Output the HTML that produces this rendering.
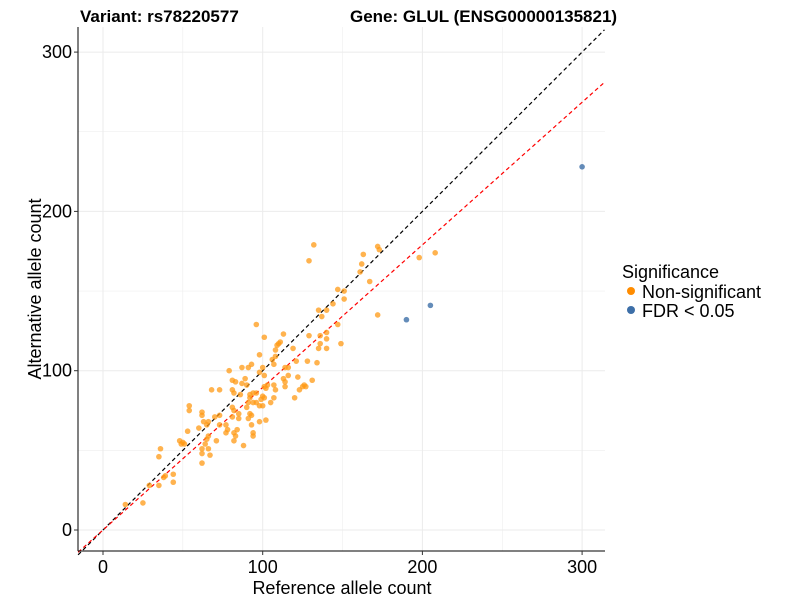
<!DOCTYPE html>
<html><head><meta charset="utf-8"><style>
body{margin:0;background:#fff;font-family:"Liberation Sans",Arial,sans-serif}
svg text{font-family:"Liberation Sans",Arial,sans-serif}
</style></head><body>
<svg id="chart" width="800" height="600">
<g id="grid"></g>
<g id="lines"></g>
<g id="pts"></g>
<g id="axes"></g>
<text x="80" y="22" font-size="17" font-weight="bold">Variant: rs78220577</text>
<text x="350" y="22" font-size="17" font-weight="bold">Gene: GLUL (ENSG00000135821)</text>
<text x="342" y="594" font-size="18" text-anchor="middle">Reference allele count</text>
<text transform="translate(41,289) rotate(-90)" font-size="18" text-anchor="middle">Alternative allele count</text>
<g>
<text x="622" y="278" font-size="18">Significance</text>
<g><circle cx="631" cy="291" r="4" fill="#FF8C00"/><text x="642" y="298" font-size="18">Non-significant</text></g>
<g><circle cx="631" cy="310" r="4" fill="#3D6FA8"/><text x="642" y="317" font-size="18">FDR &lt; 0.05</text></g>
</g>
</svg>
<script>
const nsX=[132,129,147,151,144,151,135,140,137,147,149,96,101,113,111,110,109,119,108,98,129,136,140,140,136,135,140,128,134,121,108,106,107,116,114,79,87,91,93,100,98,101,113,116,114,114,122,131,123,126,125,127,120,81,83,89,87,90,102,101,107,108,103,68,73,81,82,86,92,94,96,92,100,101,99,98,100,107,105,91,94,96,90,81,82,85,54,54,62,62,70,73,81,92,93,91,85,84,98,102,63,66,65,73,77,93,60,53,78,77,82,83,94,94,66,65,64,71,82,88,48,50,51,49,36,35,62,66,62,67,62,39,38,44,44,35,29,25,14,163,162,172,173,198,208,172,167,161];
const nsY=[179,169,151,150,142,145,138,138,134,129,117,129,121,123,118,117,116,114,113,110,122,122,124,120,117,114,114,106,105,106,109,107,104,102,102,100,102,102,104,102,99,97,95,97,93,90,96,94,88,91,90,90,83,94,93,95,92,91,89,90,91,88,91,88,88,88,86,85,85,86,86,83,84,83,82,78,78,83,80,80,80,80,77,77,75,73,78,75,74,72,71,72,71,73,72,70,70,63,68,69,68,68,66,66,66,66,64,62,63,61,61,59,61,59,59,57,54,56,56,53,56,55,54,54,51,46,51,51,48,47,42,34,33,35,30,28,28,17,16,173,167,178,176,171,174,135,156,162];
const sigX=[190,205,300];
const sigY=[132,141,228];
const xTicks=[0,100,200,300];
const yTicks=[0,100,200,300];
const sx=v=>103+v*1.597, sy=v=>530-v*1.593;
const L=78,R=605,T=27,B=551,NS="http://www.w3.org/2000/svg";
function mk(p,t,a){const e=document.createElementNS(NS,t);for(const k in a)e.setAttribute(k,a[k]);p.appendChild(e);return e;}
const g=document.getElementById('grid');
for(let v=0;v<=300;v+=50){
 const w=v%100?0.5:1;
 const a=mk(g,'line',{x1:sx(v),x2:sx(v),y1:T,y2:B,stroke:'#ebebeb','stroke-width':w});
 
 
 const b=mk(g,'line',{x1:L,x2:R,y1:sy(v),y2:sy(v),stroke:'#ebebeb','stroke-width':w});
 
 
}
const ln=document.getElementById('lines');
const x0=-15.6,x1=314;
const d1=mk(ln,'line',{x1:sx(x0),y1:sy(x0),x2:sx(x1),y2:sy(x1),stroke:'#000','stroke-dasharray':'4,3','stroke-width':1.2});


const k=0.895;
const d2=mk(ln,'line',{x1:sx(x0),y1:sy(x0*k),x2:sx(x1),y2:sy(x1*k),stroke:'#FF0000','stroke-dasharray':'4,3','stroke-width':1.2});


const P=document.getElementById('pts');
nsX.forEach((x,i)=>{const c=mk(P,'circle',{cx:sx(x),cy:sy(nsY[i]),r:2.8,fill:'#FF9A14','fill-opacity':0.75});
 
 });
sigX.forEach((x,i)=>{const c=mk(P,'circle',{cx:sx(x),cy:sy(sigY[i]),r:2.8,fill:'#3D6FA8','fill-opacity':0.8});
 
 });
const A=document.getElementById('axes');
mk(A,'line',{x1:L,x2:L,y1:T,y2:B,stroke:'#000','stroke-width':1});
mk(A,'line',{x1:L,x2:R,y1:B,y2:B,stroke:'#000','stroke-width':1});
xTicks.forEach(v=>{mk(A,'line',{x1:sx(v),x2:sx(v),y1:B,y2:B+4,stroke:'#333'});
 const t=mk(A,'text',{x:sx(v),y:B+22,'font-size':18,'text-anchor':'middle',fill:'#000'});t.textContent=v;
 
 });
yTicks.forEach(v=>{mk(A,'line',{x1:L-4,x2:L,y1:sy(v),y2:sy(v),stroke:'#333'});
 const t=mk(A,'text',{x:L-6,y:sy(v)+6,'font-size':18,'text-anchor':'end',fill:'#000'});t.textContent=v;
 
 });
</script>
</body></html>
